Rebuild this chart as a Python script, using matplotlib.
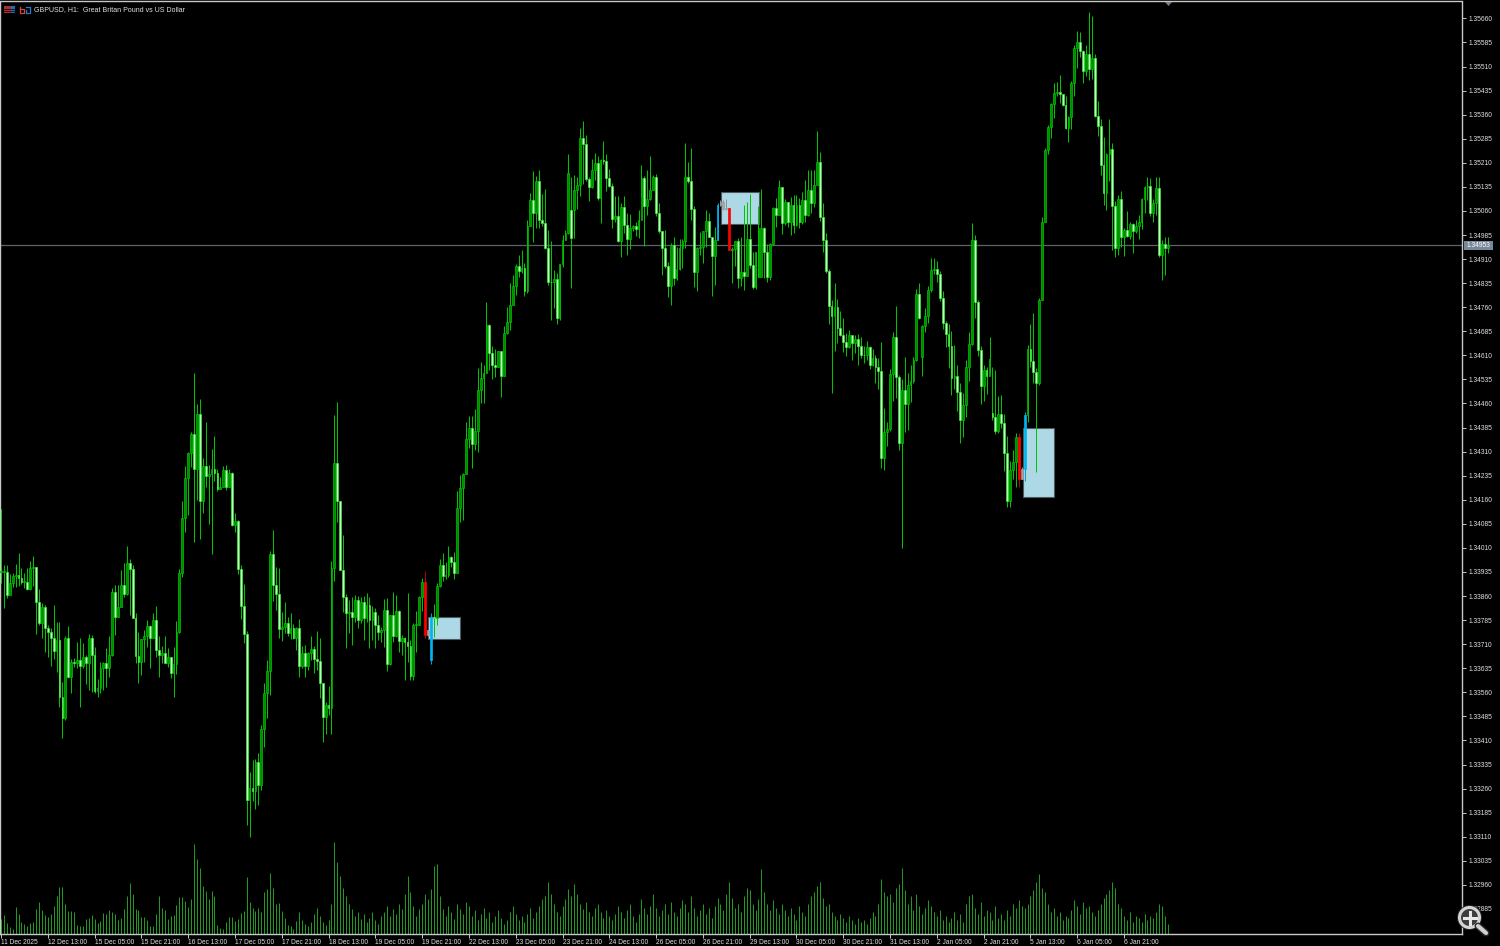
import numpy as np
import matplotlib
matplotlib.use('Agg')
import matplotlib.pyplot as plt
from matplotlib.patches import Rectangle, Circle, Polygon

# prices are points above 1.30000
closes = [
    3936,3936,3864,3900,3923,3926,3916,3905,3905,3881,
    3947,3949,3843,3777,3827,3760,3747,3730,3689,3723,
    3546,3481,3728,3609,3656,3652,3661,3643,3671,3652,
    3728,3676,3565,3575,3635,3650,3635,3676,3874,3796,
    3827,3895,3866,3962,3945,3793,3673,3656,3725,3736,
    3767,3728,3786,3692,3676,3684,3652,3669,3619,3647,
    3747,3931,4103,4227,4307,4364,4255,4428,4155,4264,
    4235,4241,4255,4243,4193,4201,4253,4201,4243,4082,
    4094,3944,3830,3741,3223,3263,3251,3344,3271,3445,
    3557,3625,3990,3893,3866,3757,3765,3775,3746,3760,
    3729,3760,3643,3682,3643,3682,3694,3665,3659,3588,
    3482,3521,3510,3947,4274,4155,3942,3858,3807,3810,
    3795,3848,3786,3842,3792,3833,3786,3811,3770,3749,
    3753,3817,3649,3802,3734,3812,3721,3728,3718,3703,
    3611,3770,3770,3857,3903,3739,3755,3796,3791,3890,
    3957,3923,3926,3983,3967,3933,4134,4196,4241,4349,
    4383,4334,4373,4502,4539,4554,4705,4617,4580,4573,
    4622,4546,4679,4715,4767,4827,4889,4874,4882,4809,
    5014,5093,5055,5154,5032,5022,4943,4840,4838,4847,
    4726,4894,4970,4991,5178,4975,5126,5141,5287,5269,
    5159,5136,5188,5209,5100,5219,5217,5162,5139,5034,
    5043,4965,5072,5017,4972,5006,5014,5003,5032,5162,
    5076,5097,5124,5165,5053,4996,4944,4887,4825,4954,
    4850,4878,4944,4965,5165,5152,5066,4871,4944,4949,
    4996,5029,4980,4920,4970,5079,5089,5065,5069,4939,
    4941,4965,4850,4871,4858,4973,4892,4822,4933,5006,
    5006,4933,4853,4957,5069,5048,5134,5022,5087,5027,
    5079,5017,5079,5026,5095,5048,5126,5086,5142,5211,
    5041,4968,4874,4764,4734,4762,4694,4672,4653,4636,
    4674,4648,4661,4638,4612,4610,4636,4580,4601,4573,
    4560,4290,4371,4381,4552,4667,4542,4336,4503,4458,
    4518,4529,4594,4802,4726,4700,4733,4814,4877,4879,
    4864,4788,4710,4677,4640,4539,4546,4497,4407,4456,
    4573,4645,4970,4776,4627,4513,4563,4546,4598,4419,
    4375,4428,4399,4307,4155,4253,4279,4355,4224,4255,
    4425,4629,4591,4557,4525,4783,5027,5250,5323,5394,
    5429,5432,5425,5391,5318,5354,5460,5567,5586,5557,
    5497,5549,5503,5536,5356,5325,5202,5115,5238,5252,
    5074,4946,5097,4980,5001,4983,5020,4996,5013,5024,
    5098,5134,5139,5053,5084,5131,4923,4957,4944,4951,
]
highs = [
    4131,3957,3957,3929,3933,3960,3994,3947,3933,3947,
    3968,3985,3952,3883,3838,3832,3770,3760,3832,3780,
    3780,3593,3734,3767,3663,3666,3718,3728,3715,3676,
    3741,3739,3702,3600,3654,3654,3697,3736,3884,3895,
    3895,3942,3962,4016,3975,3957,3808,3747,3725,3754,
    3786,3770,3806,3830,3734,3704,3736,3697,3671,3702,
    3782,3944,4155,4266,4310,4371,4555,4458,4474,4290,
    4401,4269,4318,4359,4255,4230,4264,4269,4255,4245,
    4120,4097,3957,3898,3751,3313,3349,3352,3370,3458,
    3588,3661,3999,4066,3950,3947,3809,3840,3796,3807,
    3773,3765,3788,3703,3708,3687,3737,3703,3751,3729,
    3586,3529,3580,3970,4425,4464,4155,4051,3867,3848,
    3858,3864,3861,3858,3861,3870,3858,3830,3823,3802,
    3765,3850,3854,3802,3874,3864,3817,3739,3732,3869,
    3724,3776,3812,3859,3916,3939,3755,3807,3836,3900,
    3975,3993,3967,4016,3985,3996,4188,4237,4243,4401,
    4421,4421,4442,4570,4588,4580,4775,4708,4640,4629,
    4625,4617,4702,4762,4835,4861,4895,4923,4937,4897,
    5032,5115,5185,5169,5188,5113,5129,5001,4965,4876,
    4868,4895,4986,5001,5237,5167,5172,5167,5318,5341,
    5297,5165,5221,5240,5232,5221,5279,5238,5190,5147,
    5107,5107,5084,5107,5055,5051,5017,5027,5063,5204,
    5169,5186,5230,5172,5176,5084,4998,5001,4902,4960,
    4980,4949,4972,4972,5271,5211,5256,5074,4949,4994,
    4999,5063,5053,4972,5011,5084,5094,5094,5097,5069,
    4949,4967,4975,4980,5079,5089,5113,4933,4933,5076,
    5128,5009,4957,4959,5072,5100,5157,5094,5097,5089,
    5104,5110,5110,5101,5120,5157,5188,5188,5188,5308,
    5245,5084,4991,4879,4783,4835,4785,4747,4726,4681,
    4690,4671,4674,4677,4667,4638,4656,4640,4630,4612,
    4601,4651,4445,4401,4567,4684,4764,4549,4536,4604,
    4555,4580,4606,4816,4835,4705,4759,4827,4913,4913,
    4903,4873,4809,4716,4708,4686,4643,4580,4523,4492,
    4596,4684,5022,4986,4783,4640,4580,4573,4667,4573,
    4565,4482,4487,4427,4359,4282,4316,4367,4367,4262,
    4432,4643,4708,4742,4570,4790,5041,5256,5328,5396,
    5458,5463,5484,5417,5417,5356,5465,5578,5621,5617,
    5562,5578,5679,5668,5549,5401,5346,5290,5242,5346,
    5271,5092,5110,5121,5006,5061,5027,5022,5032,5048,
    5100,5138,5167,5162,5097,5167,5167,4970,4978,4980,
]
lows = [
    3900,3822,3853,3866,3888,3887,3892,3898,3884,3878,
    3879,3890,3741,3770,3728,3687,3671,3642,3663,3624,
    3515,3419,3474,3604,3559,3640,3635,3515,3635,3585,
    3567,3562,3557,3546,3557,3567,3578,3609,3673,3739,
    3794,3825,3858,3864,3801,3791,3650,3590,3614,3656,
    3702,3635,3728,3671,3609,3650,3650,3640,3604,3546,
    3617,3744,3919,4061,4113,4261,4027,4160,4037,4118,
    4199,4085,3991,4220,4186,4193,4199,4189,4199,4079,
    4059,3929,3789,3715,3147,3110,3222,3197,3209,3256,
    3391,3479,3552,3846,3815,3729,3721,3744,3734,3725,
    3725,3692,3609,3637,3609,3630,3661,3619,3630,3541,
    3404,3429,3490,3429,3908,4092,3942,3809,3699,3746,
    3708,3780,3761,3777,3724,3780,3699,3724,3699,3724,
    3718,3701,3625,3646,3718,3732,3687,3677,3599,3656,
    3599,3599,3687,3770,3812,3729,3736,3649,3732,3770,
    3889,3908,3912,3918,3952,3912,3933,4092,4097,4240,
    4321,4258,4315,4310,4463,4463,4554,4563,4536,4544,
    4573,4480,4608,4677,4689,4766,4798,4854,4868,4796,
    4804,5012,4963,5006,5006,5014,4941,4828,4721,4757,
    4708,4721,4884,4968,4989,4819,4975,5066,5107,5145,
    5152,5091,5131,5157,5095,5022,5207,5121,5136,5006,
    5027,4962,4915,4991,4923,4941,4996,4982,4975,5103,
    4951,5048,5095,5124,5045,4991,4861,4882,4793,4767,
    4828,4845,4876,4882,4944,5147,5032,4824,4811,4923,
    4897,4949,4978,4796,4830,4970,5074,5063,5063,4939,
    4835,4887,4819,4826,4814,4856,4881,4816,4816,4853,
    4853,4850,4840,4845,4954,5011,5048,4989,5017,5011,
    4986,4992,5014,5007,5020,5026,5045,5053,5072,5142,
    5030,4931,4866,4708,4494,4625,4648,4671,4619,4609,
    4632,4594,4617,4580,4601,4586,4596,4567,4577,4525,
    4505,4258,4253,4326,4373,4469,4477,4316,4011,4370,
    4378,4466,4525,4591,4724,4546,4684,4712,4806,4864,
    4840,4778,4692,4636,4570,4487,4505,4438,4338,4357,
    4417,4531,4643,4726,4609,4459,4469,4490,4555,4407,
    4365,4368,4383,4251,4136,4139,4224,4201,4201,4224,
    4220,4401,4575,4523,4248,4518,4783,5024,5238,5287,
    5349,5419,5396,5386,5315,5276,5315,5417,5505,5541,
    5458,5481,5469,5471,5354,5294,5173,5079,5063,5152,
    4939,4915,4923,4947,4920,4980,4972,4928,4991,4972,
    5003,5053,5095,5043,5027,5048,4918,4845,4861,4930,
]
# opens follow the previous close, except where the picture shows a gap
open_gaps = {147: 3661, 195: 5063, 196: 5063, 259: 4853, 260: 4853, 315: 4604, 339: 4430}

# tick volume, relative scale
volumes = [
    15,19,11,7,5,27,20,12,10,8,11,12,25,32,24,19,17,20,28,38,
    47,47,30,23,23,22,9,8,8,15,16,19,15,11,13,21,20,24,22,20,
    14,16,25,38,51,40,25,24,17,17,14,8,8,20,38,26,24,15,18,19,
    29,37,37,33,27,35,90,75,66,48,43,35,43,38,9,6,5,12,17,17,
    13,15,21,23,57,32,26,23,26,22,42,45,61,46,30,31,23,16,9,8,
    5,13,22,
    14,10,8,12,20,26,18,12,9,
    14,30,92,72,58,46,38,30,
    25,18,22,15,20,12,16,22,14,10,
    18,22,28,18,25,20,30,25,40,58,
    42,28,18,25,30,40,35,45,68,70,
    38,25,18,28,22,15,30,25,20,32,
    28,18,24,14,20,26,16,22,12,18,
    24,16,10,14,22,28,20,14,18,12,
    20,26,16,22,28,35,38,52,40,30,
    22,18,28,35,45,38,50,40,30,25,
    32,22,18,26,30,22,16,24,18,14,
    20,28,22,16,24,30,18,12,20,35,
    26,20,28,40,26,18,24,30,20,32,
    22,18,26,34,30,22,38,26,18,24,
    30,20,26,16,28,36,30,24,40,52,
    36,26,30,22,38,46,44,30,24,35,
    65,42,30,24,34,26,20,30,24,18,
    26,20,14,28,22,18,30,38,42,48,
    52,36,28,30,22,18,14,20,16,12,
    18,14,10,16,12,14,10,16,22,18,
    30,55,42,38,40,32,46,50,66,44,
    30,38,24,40,28,20,26,34,28,22,
    18,24,14,18,12,16,22,14,20,12,
    30,38,40,26,20,32,18,24,22,14,
    28,16,20,14,24,18,30,26,34,28,
    26,30,38,44,52,60,46,42,30,22,
    26,18,22,14,18,16,24,34,28,20,
    32,26,28,22,18,24,30,36,40,44,
    52,46,30,26,18,14,22,12,18,16,
    12,20,14,18,16,22,30,28,18,10,
]

red_bars = [145, 249, 348]
blue_bars = [147, 245, 350]
grey_bars = [146, 246, 247, 248, 349]

# supply/demand boxes: first bar, last bar, top, bottom (points above 1.30000)
zone_start = [146.0, 246.2, 349.4]
zone_end = [157.0, 259.1, 360.2]
zone_top = [3796, 5120, 4385]
zone_bottom = [3726, 5020, 4170]

bid_price = 1.34953
price_ticks = [1.32885 + 0.00075 * k for k in range(38)]
time_labels = ['11 Dec 2025', '12 Dec 13:00', '15 Dec 05:00', '15 Dec 21:00', '16 Dec 13:00',
               '17 Dec 05:00', '17 Dec 21:00', '18 Dec 13:00', '19 Dec 05:00', '19 Dec 21:00',
               '22 Dec 13:00', '23 Dec 05:00', '23 Dec 21:00', '24 Dec 13:00', '26 Dec 05:00',
               '26 Dec 21:00', '29 Dec 13:00', '30 Dec 05:00', '30 Dec 21:00', '31 Dec 13:00',
               '2 Jan 05:00', '2 Jan 21:00', '5 Jan 13:00', '6 Jan 05:00', '6 Jan 21:00']
bars_per_label = 16

plt.rcParams['font.family'] = ['Liberation Sans', 'DejaVu Sans']
AXIS = '#c8c8c8'
TEXT = '#e2e2e2'
GREEN = '#00c400'

c = 1.3 + np.array(closes) / 1e5
h = 1.3 + np.array(highs) / 1e5
l = 1.3 + np.array(lows) / 1e5
o = np.r_[c[0], c[:-1]]
for k, v in open_gaps.items():
    o[k] = 1.3 + v / 1e5
x = np.arange(len(c))

fig = plt.figure(figsize=(15, 9.46), dpi=100, facecolor='black')
rect = [0, (946 - 933.5) / 946, 1462.3 / 1500, 932 / 946]

# volume sits under the price axes
vol = fig.add_axes(rect, facecolor='black')
vol.vlines(np.arange(len(volumes)), 0, volumes, color='#1f9a1f', lw=0.72)
vol.set_xlim(-0.34, 499.66)
vol.set_ylim(0, 932)
vol.axis('off')

ax = fig.add_axes(rect, facecolor='none')
ax.set_xlim(-0.34, 499.66)
y_of = lambda pix: 1.34985 - (pix - 235) * 0.00075 / 24.07
ax.set_ylim(y_of(933.5), y_of(1.5))

for a, b, t, bt in zip(zone_start, zone_end, zone_top, zone_bottom):
    ax.add_patch(Rectangle((a, 1.3 + bt / 1e5), b - a, (t - bt) / 1e5, facecolor='#add8e6',
                           edgecolor='#4c5a60', lw=0.8, zorder=1))
ax.axhline(bid_price, color='#5c6268', lw=0.9, zorder=1.5)

wick_colors = [GREEN] * len(c)
body_faces = []
body_edges = []
for i in x:
    if i in red_bars:
        wick_colors[i] = '#c00000'
        body_faces.append('#ff0000'); body_edges.append('#ff0000')
    elif i in blue_bars:
        wick_colors[i] = '#00a0e0'
        body_faces.append('#00b4f0'); body_edges.append('#00b4f0')
    elif i in grey_bars:
        wick_colors[i] = '#909090'
        body_faces.append('#a0a0a0'); body_edges.append('#a0a0a0')
    elif c[i] >= o[i]:
        body_faces.append('#008c00'); body_edges.append(GREEN)
    else:
        body_faces.append('#c8ffc8'); body_edges.append('#2cf02c')

ax.vlines(x, l, h, colors=wick_colors, lw=0.72, zorder=2)
body_low = np.minimum(o, c)
body_h = np.maximum(np.abs(c - o), 0.00002)
ax.bar(x, body_h, bottom=body_low, width=0.62, color=body_faces, edgecolor=body_edges,
       lw=0.5, zorder=3)

ax.yaxis.tick_right()
ax.set_yticks(price_ticks)
ax.set_yticklabels(['%.5f' % p for p in price_ticks])
ax.set_xticks(np.arange(len(time_labels)) * bars_per_label)
ax.set_xticklabels(time_labels, ha='left')
ax.tick_params(axis='y', colors=AXIS, labelcolor=TEXT, length=3, width=0.7, labelsize=4.8, pad=1.5)
ax.tick_params(axis='x', colors=AXIS, labelcolor=TEXT, length=3, width=0.7, labelsize=4.8, pad=0.8)
for spine in ax.spines.values():
    spine.set_color(AXIS)
    spine.set_linewidth(1.0)

# terminal decorations, in image pixels
ui = fig.add_axes([0, 0, 1, 1], facecolor='none')
ui.set_xlim(0, 1500)
ui.set_ylim(946, 0)
ui.axis('off')

ui.text(34, 10, 'GBPUSD, H1:  Great Britan Pound vs US Dollar', color=TEXT, fontsize=5.0, va='center')
ui.add_patch(Rectangle((3.5, 6.5), 7, 7, facecolor='#a83232', edgecolor='none'))
ui.add_patch(Rectangle((10.5, 6.5), 4.5, 7, facecolor='#2a6ab0', edgecolor='none'))
ui.plot([3.5, 15], [9, 9], color='black', lw=0.5)
ui.plot([3.5, 15], [11.5, 11.5], color='black', lw=0.5)
ui.plot([19.5, 19.5, 24, 24, 19.5], [7, 13.5, 13.5, 9, 9], color='#d04a3a', lw=0.9)
ui.plot([25.5, 25.5, 29.5, 29.5, 25.5], [10, 13.5, 13.5, 7, 7], color='#2a7ad0', lw=0.9)

ui.add_patch(Rectangle((1464, 240.5), 29, 9, facecolor='#778899', edgecolor='none'))
ui.text(1478.5, 245, '%.5f' % bid_price, color='white', fontsize=4.8, ha='center', va='center')
ui.add_patch(Polygon([[1165, 2], [1172, 2], [1168.5, 6]], facecolor='#708090', edgecolor='none'))

ui.plot([1478, 1486], [926, 933], color='#2a2a2a', lw=5, solid_capstyle='round')
ui.plot([1478, 1486], [926, 933], color='#d0d0d0', lw=3, solid_capstyle='round')
ui.add_patch(Circle((1469.5, 917.5), 12.5, facecolor='#2a2a2a', edgecolor='none'))
ui.add_patch(Circle((1469.5, 917.5), 10, facecolor='#3c3c3c', edgecolor='#d4d4d4', lw=2.2))
ui.plot([1463.5, 1475.5], [917.5, 917.5], color='#e8e8e8', lw=2.2)
ui.plot([1469.5, 1469.5], [911.5, 923.5], color='#e8e8e8', lw=2.2)

fig.savefig('out.png', dpi=100, facecolor='black')
